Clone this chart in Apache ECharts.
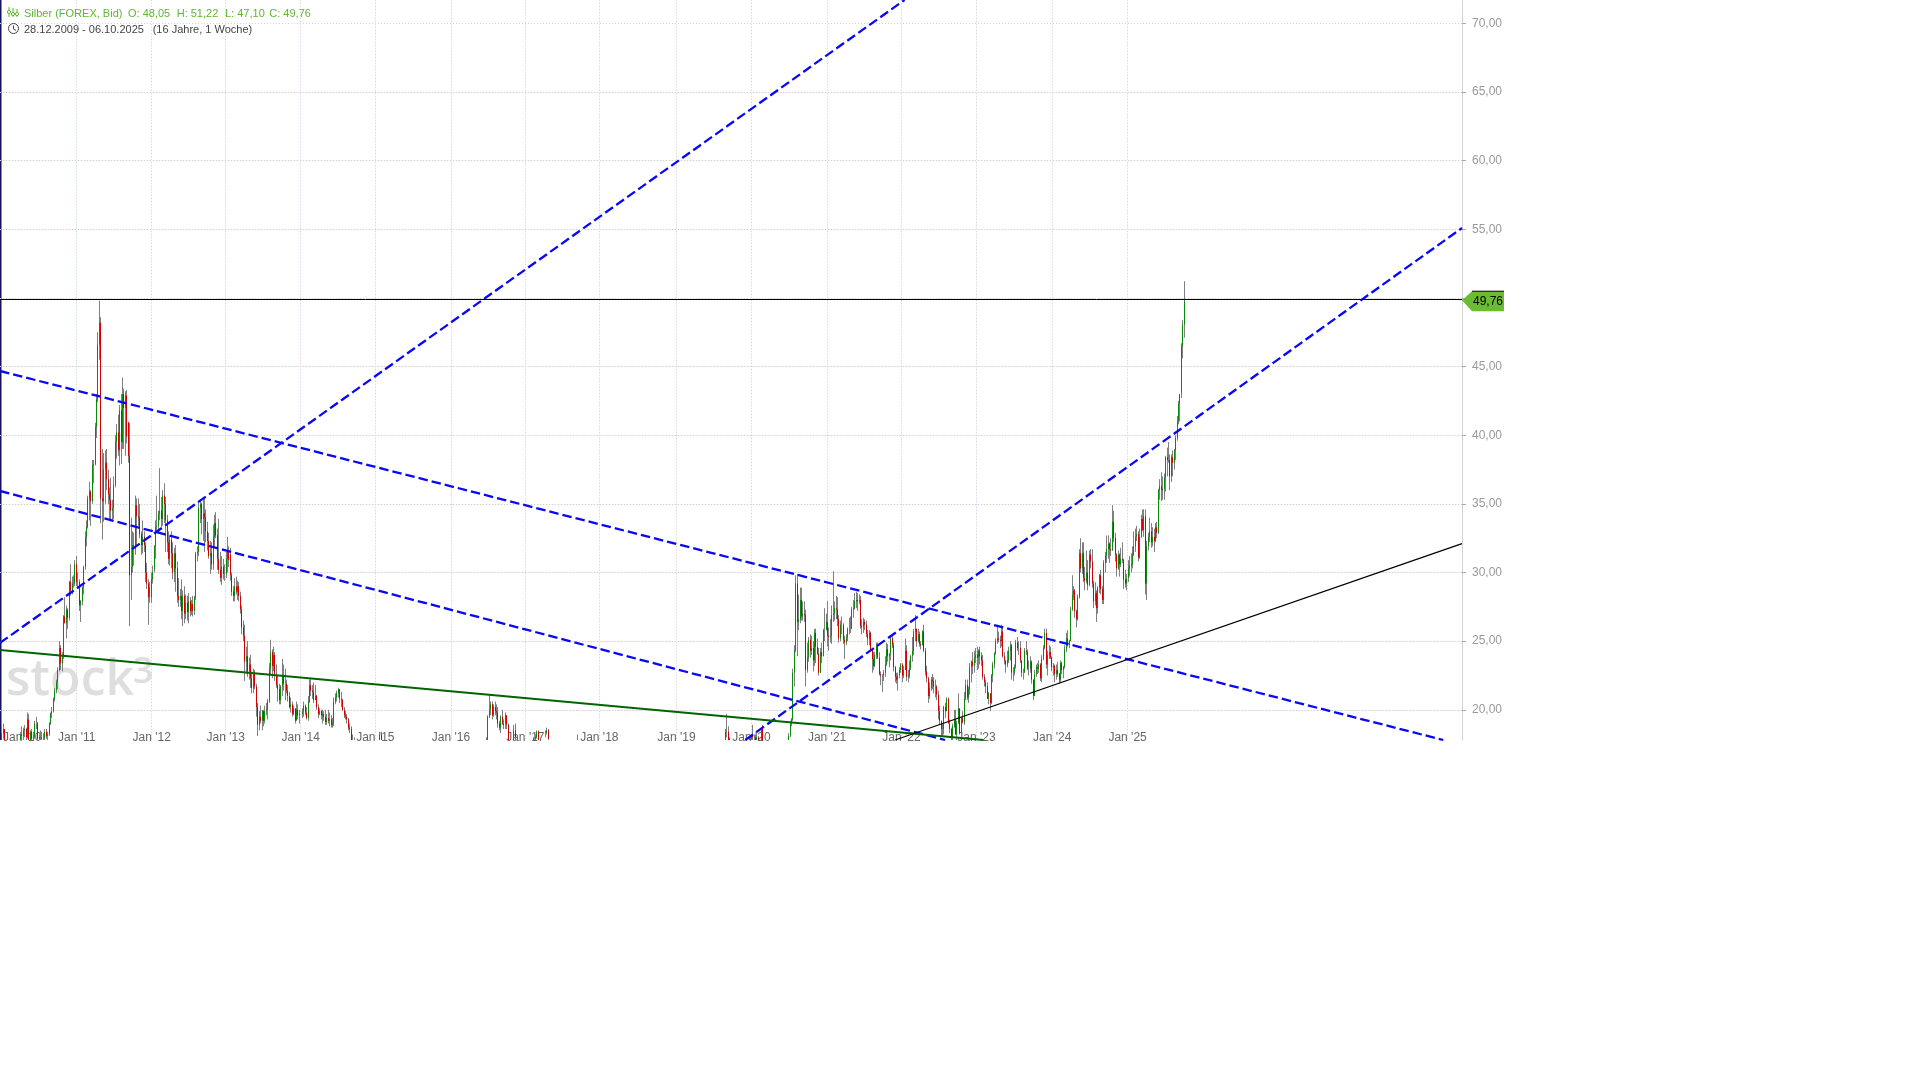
<!DOCTYPE html>
<html><head><meta charset="utf-8"><title>Silber</title>
<style>html,body{margin:0;padding:0;background:#fff}#c{width:1920px;height:1080px}</style>
<script src="https://cdn.jsdelivr.net/npm/echarts@6/dist/echarts.min.js"></script>
</head><body><div id="c"></div>
<script>
// weekly rows: [open, high, low, close]
const w2010 = [[16.8,17.3,16.6,17.0],[17.0,18.9,16.9,18.3],[18.3,19.0,17.9,18.6],[18.6,18.4,16.9,17.1],[17.1,17.3,15.9,16.2],[16.2,16.6,14.8,15.0],[15.0,15.9,14.9,15.8],[15.8,16.6,15.7,16.5],[16.5,16.7,15.9,16.4],[16.4,17.2,16.3,17.1],[17.1,17.5,16.8,17.1],[17.1,17.3,16.5,16.9],[16.9,17.2,16.6,17.0],[17.0,17.8,16.9,17.7],[17.7,18.4,17.6,18.2],[18.2,18.8,17.6,18.1],[18.1,18.7,17.7,18.5],[18.5,18.9,18.0,18.6],[18.6,18.7,17.7,18.0],[18.0,19.8,17.9,19.3],[19.3,19.7,17.3,17.6],[17.6,18.5,17.3,18.4],[18.4,18.6,17.5,17.9],[17.9,18.4,17.4,18.0],[18.0,19.2,17.9,19.0],[19.0,19.5,18.6,19.0],[19.0,19.1,17.8,17.9],[17.9,18.2,17.5,18.0],[18.0,18.5,17.7,18.0],[18.0,18.4,17.5,17.9],[17.9,18.3,17.6,17.9],[17.9,18.6,17.8,18.4],[18.4,18.6,17.9,18.1],[18.1,18.4,17.8,18.2],[18.2,19.1,18.1,19.0],[19.0,19.8,18.9,19.7],[19.7,20.2,19.4,19.9],[19.9,20.9,19.8,20.8],[20.8,21.6,20.6,21.4],[21.4,22.2,21.2,22.0],[22.0,23.1,21.5,22.9],[22.9,25.0,22.8,24.5],[24.5,24.7,22.9,23.4],[23.4,24.2,22.8,23.9],[23.9,26.9,23.7,26.8],[26.8,28.2,26.3,26.3],[26.3,27.6,25.2,27.3],[27.3,27.4,25.9,26.7],[26.7,29.4,26.5,29.3],[29.3,30.6,28.3,28.7],[28.7,29.7,28.4,29.2],[29.2,29.8,28.9,29.2],[29.2,30.9,29.0,30.6]];
const w2011 = [[30.6,31.2,29.0,29.3],[29.3,30.0,28.9,29.3],[29.3,29.5,27.2,27.6],[27.6,28.0,26.4,27.9],[27.9,29.0,27.6,28.9],[28.9,30.5,28.4,30.4],[30.4,33.0,30.2,32.6],[32.6,33.8,31.9,33.3],[33.3,35.6,33.2,35.4],[35.4,36.6,33.8,35.9],[35.9,36.0,33.4,35.2],[35.2,38.2,35.0,37.8],[37.8,38.2,36.5,37.9],[37.9,40.9,37.8,40.6],[40.6,43.0,39.8,42.6],[42.6,47.5,42.4,46.6],[46.6,49.8,45.5,48.2],[48.2,48.6,33.6,35.4],[35.4,39.0,32.4,35.2],[35.2,38.7,33.7,37.5],[37.5,38.9,35.0,38.0],[38.0,39.0,36.0,36.8],[36.8,37.5,35.0,35.7],[35.7,36.2,33.8,35.3],[35.3,36.9,33.7,34.5],[34.5,35.3,33.7,34.7],[34.7,37.0,33.9,36.4],[36.4,40.0,36.2,39.5],[39.5,40.8,38.3,40.2],[40.2,41.5,38.5,38.9],[38.9,42.2,37.8,41.8],[41.8,43.0,37.9,39.5],[39.5,44.2,39.0,43.0],[43.0,43.4,39.0,42.0],[42.0,43.2,38.5,42.9],[42.9,43.3,39.4,39.9],[40.9,41.0,38.0,38.5],[38.5,40.9,26.1,29.8],[29.8,34.0,28.0,30.4],[30.4,33.0,30.0,32.0],[32.0,32.9,30.5,31.9],[31.7,35.6,31.3,34.9],[34.9,35.4,32.0,34.1],[34.1,35.4,33.4,34.0],[34.0,35.0,32.5,32.8],[32.8,33.0,31.3,32.0],[32.0,33.8,31.4,32.6],[32.6,33.0,31.5,32.0],[32.0,32.2,29.3,30.0],[30.0,30.7,28.8,29.2],[29.2,29.5,26.2,28.2],[28.2,29.3,27.8,28.9]];
const w2012 = [[28.2,30.0,27.8,29.5],[29.5,30.5,29.2,30.0],[30.2,32.0,30.0,31.9],[31.9,33.8,31.0,33.3],[33.3,35.6,33.0,33.4],[33.4,34.5,32.8,34.3],[34.3,37.6,33.8,34.5],[34.5,35.5,33.3,33.9],[33.9,36.0,33.4,35.6],[35.6,36.5,33.6,35.0],[35.0,35.5,31.5,33.8],[33.8,34.2,31.5,32.2],[32.2,33.0,30.6,31.0],[31.0,32.7,30.5,32.4],[32.4,33.0,30.3,31.4],[31.4,32.2,29.5,30.0],[30.0,31.8,29.3,31.4],[31.4,32.0,28.6,30.3],[30.3,30.8,27.8,28.3],[28.3,29.6,27.5,28.0],[28.0,28.8,27.5,28.3],[28.3,29.5,26.6,27.2],[27.2,28.7,26.1,28.3],[28.3,29.0,26.3,27.0],[27.0,28.4,26.6,27.8],[27.8,28.3,26.5,27.1],[27.1,28.5,26.3,27.9],[27.9,28.2,26.8,27.2],[27.2,28.0,26.9,27.7],[27.7,28.3,26.8,27.2],[27.2,28.3,26.9,28.2],[28.2,31.5,28.0,31.4],[31.4,31.9,30.8,31.5],[31.5,35.2,31.2,34.7],[34.7,35.3,33.6,35.0],[35.0,35.1,32.8,33.9],[33.9,35.4,32.3,34.3],[34.3,35.4,31.5,34.0],[34.0,34.6,32.2,33.0],[33.0,33.7,31.6,32.3],[32.3,32.9,31.0,31.2],[31.2,32.3,29.9,31.4],[31.4,32.2,30.2,30.6],[30.6,33.5,30.2,32.6],[32.6,34.2,31.8,33.6],[33.6,34.4,32.5,32.7],[32.7,33.2,30.2,31.0],[31.0,33.9,29.9,30.2],[30.2,31.5,29.3,29.6],[29.6,31.2,29.1,30.4],[30.4,31.0,29.5,29.9],[29.9,30.6,29.4,29.9]];
const w2013 = [[29.9,31.5,29.6,31.0],[31.0,32.6,30.0,31.5],[31.5,31.9,30.4,30.9],[31.3,31.8,29.4,29.8],[29.8,30.0,28.3,28.6],[28.6,29.0,27.9,28.3],[28.3,29.6,27.9,29.0],[29.0,29.7,28.4,28.6],[28.6,29.4,28.0,29.0],[29.0,29.3,27.9,28.3],[28.3,28.6,27.0,27.3],[27.3,27.6,25.5,26.0],[26.0,26.5,25.0,25.4],[25.4,26.2,22.1,23.5],[23.5,24.6,22.6,23.9],[23.9,25.0,22.4,22.8],[22.8,23.8,22.2,23.3],[23.3,24.0,21.6,22.3],[22.3,22.8,21.2,21.6],[21.6,23.0,21.2,22.6],[22.6,22.9,21.5,21.7],[21.7,21.9,19.5,20.2],[20.2,20.5,18.1,18.9],[18.9,19.9,18.5,19.5],[19.5,20.3,19.0,19.2],[19.2,20.0,18.5,19.9],[19.9,20.0,18.8,19.2],[19.2,20.3,19.0,19.9],[19.9,20.5,19.6,20.0],[20.0,20.8,19.3,20.6],[20.6,23.4,20.5,23.0],[23.0,25.1,22.5,24.2],[24.2,24.4,22.3,23.2],[23.2,24.6,22.8,24.0],[24.0,24.2,22.1,22.6],[22.6,23.3,21.6,21.8],[21.8,22.5,20.6,21.5],[21.5,21.9,20.4,20.7],[20.7,21.8,20.4,21.7],[21.7,23.7,21.0,22.4],[22.4,23.3,21.4,21.9],[21.9,23.0,20.7,21.9],[21.9,22.2,21.2,21.4],[21.4,21.8,20.6,21.0],[21.0,21.3,20.1,20.2],[20.2,20.9,19.8,20.4],[20.4,20.6,19.5,19.7],[19.7,20.3,19.6,20.1],[20.1,20.1,19.0,19.2],[19.2,20.6,19.4,20.0],[20.0,20.4,19.3,19.6],[19.6,20.0,19.0,19.7]];
const w2014 = [[19.7,20.1,19.4,19.9],[19.9,20.6,19.5,20.3],[20.3,20.4,19.6,19.8],[19.8,20.2,19.3,19.4],[19.4,21.0,19.2,20.6],[20.6,22.2,20.5,21.8],[21.8,22.3,21.0,21.4],[21.4,21.8,20.8,21.3],[21.3,22.0,20.5,20.7],[20.7,21.8,20.7,21.0],[21.0,21.1,20.0,20.2],[20.2,20.4,19.4,19.7],[19.7,20.1,19.6,19.9],[19.9,20.0,19.3,19.6],[19.6,20.0,19.0,19.7],[19.7,19.9,19.2,19.5],[19.5,20.0,18.9,19.1],[19.1,19.7,18.9,19.4],[19.4,20.0,19.0,19.2],[19.2,19.8,18.8,19.3],[19.3,19.6,18.7,18.9],[18.9,19.4,18.7,19.0],[19.0,20.9,18.8,20.6],[20.6,21.2,20.4,20.9],[20.9,21.4,20.6,21.2],[21.2,21.6,20.9,21.5],[21.5,21.5,20.5,20.8],[20.8,21.3,20.2,20.7],[20.7,20.8,19.9,20.0],[20.0,20.2,19.4,19.6],[19.6,19.9,19.3,19.5],[19.5,19.7,19.0,19.3],[19.3,19.4,18.5,18.7],[18.7,19.0,18.3,18.6],[18.6,18.8,17.6,17.8],[17.8,18.2,17.4,17.5],[17.5,18.0,17.2,17.4]];
const w2015 = [[17.5,18.4,17.4,18.2],[18.2,18.4,17.6,17.7]];
const w2016 = [[17.5,17.8,17.2,17.7],[17.7,18.0,17.2,17.8],[17.8,19.6,17.7,19.5],[19.5,21.1,19.4,20.0],[20.0,20.6,19.6,20.4],[20.4,20.6,19.3,19.6],[19.6,20.4,19.5,20.2],[20.2,20.6,19.6,19.9],[19.9,20.4,19.3,19.8],[19.8,20.2,18.7,19.0],[19.0,19.2,18.5,18.7],[18.7,19.6,18.3,19.5],[19.5,20.0,18.9,19.0],[19.0,19.3,18.6,18.9],[19.0,19.8,18.6,19.6],[19.6,19.6,18.6,18.9],[18.9,19.0,17.4,17.5]];
const w2016b = [[17.8,18.9,17.7,18.5],[18.5,19.0,17.8,18.0]];
const w2017a = [[17.5,18.0,17.4,17.9],[17.9,18.2,17.8,18.0],[18.0,18.5,17.9,18.4],[18.4,18.5,17.6,17.7]];
const w2017b = [[18.2,18.5,18.0,18.2],[18.3,18.7,18.2,18.5],[18.5,18.6,17.8,17.9]];
const w2017c = [[17.7,18.2,17.6,17.7]];
const w2019a = [[17.3,18.6,17.1,18.4],[18.4,19.7,18.0,18.4],[18.4,18.8,17.4,17.6],[17.6,18.0,17.3,17.9]];
const w2019b = [[17.3,18.0,17.2,17.9],[17.9,18.2,17.6,18.1],[18.1,18.9,17.6,18.0],[18.0,18.2,17.7,18.0],[18.0,18.2,17.6,17.8],[17.8,18.4,17.6,18.0],[18.0,18.1,17.2,17.4],[17.4,17.7,17.1,17.6],[17.6,18.7,17.5,18.6],[18.8,18.9,16.4,16.7]];
const w2020 = [[17.8,18.3,17.7,18.1],[18.1,19.2,18.0,19.1],[19.1,19.4,18.8,19.3],[19.3,23.0,19.2,22.7],[22.7,24.7,21.7,24.3],[24.3,29.8,24.2,29.2],[29.2,29.9,23.9,26.4],[26.4,28.4,25.8,26.6],[26.6,28.9,26.3,28.0],[28.0,28.9,26.5,26.8],[26.8,27.9,26.5,27.0],[27.0,27.9,26.4,26.9],[26.9,27.3,21.7,22.9],[22.9,24.9,22.7,23.8],[23.8,25.3,23.5,25.1],[25.1,25.5,23.8,24.3],[24.3,25.4,24.0,24.5],[24.5,25.0,22.8,23.6],[23.6,25.9,23.2,25.6],[25.6,25.9,23.4,24.6],[24.6,25.2,24.0,24.1],[24.1,24.5,22.5,22.7],[22.7,24.5,22.7,24.2],[24.2,24.9,23.4,23.9],[23.9,25.9,23.9,25.8],[25.8,27.4,25.0,25.8],[25.8,27.0,25.8,26.4]];
const w2021 = [[26.4,27.9,24.6,25.4],[25.4,26.0,24.3,25.3],[25.3,26.6,24.9,25.4],[25.4,27.6,24.8,26.9],[26.9,30.1,26.4,27.0],[27.0,27.9,26.5,27.4],[27.4,28.3,26.6,27.3],[27.3,28.2,26.1,26.6],[26.6,26.9,24.9,25.2],[25.2,26.5,25.0,26.2],[26.2,26.8,25.5,26.2],[26.2,26.3,24.8,25.1],[25.1,25.4,23.7,24.9],[24.9,25.5,24.7,25.3],[25.3,26.0,25.0,25.9],[25.9,26.7,25.5,25.9],[25.9,26.8,25.6,25.9],[25.9,27.5,25.9,27.3],[27.3,28.0,26.7,27.4],[27.4,28.5,27.3,27.9],[27.9,28.6,27.4,28.0],[28.0,28.5,27.2,27.9],[27.9,28.4,27.7,28.0],[28.0,28.3,25.9,26.1],[26.1,26.6,25.5,26.0],[26.0,26.7,25.6,26.4],[26.4,26.6,25.8,26.2],[26.2,26.5,25.3,25.5],[25.5,25.8,24.7,25.2],[25.2,25.8,24.7,25.6],[25.6,25.7,24.3,24.4],[24.4,24.4,22.7,23.7],[23.7,24.2,22.9,23.2],[23.2,24.2,23.1,24.0],[24.0,24.9,23.7,24.7],[24.7,24.9,23.7,23.8],[23.8,24.2,22.5,22.6],[22.6,22.8,21.8,22.5],[22.5,22.6,21.3,22.5],[22.5,22.9,22.1,22.7],[22.7,23.9,22.4,23.3],[23.3,24.9,23.2,24.4],[24.4,24.8,23.5,23.9],[23.9,24.1,23.1,24.1],[24.1,25.4,23.6,25.2],[25.2,25.4,24.5,24.7],[24.7,24.9,22.8,23.1],[23.1,23.2,22.0,22.4],[22.4,22.7,21.9,22.2],[22.2,22.7,21.4,22.5],[22.5,23.1,22.3,22.9],[22.9,23.4,22.7,23.3]];
const w2022 = [[23.3,23.4,22.0,22.5],[22.5,23.2,22.3,22.9],[22.9,25.2,22.9,24.3],[24.3,24.7,22.1,22.4],[22.4,22.9,22.0,22.5],[22.5,23.6,22.3,23.0],[23.0,24.0,22.9,23.9],[23.9,25.3,23.5,24.3],[24.3,25.9,24.0,25.7],[25.7,26.9,25.0,25.9],[25.9,25.9,24.6,25.0],[25.0,25.9,24.9,25.5],[25.5,25.7,24.6,24.8],[24.8,25.0,24.4,24.7],[24.7,25.8,24.7,25.7],[25.7,26.2,24.2,24.3],[24.3,24.5,22.5,22.8],[22.8,23.2,22.0,22.3],[22.3,22.4,20.5,21.0],[21.0,22.0,20.8,21.6],[21.6,22.4,21.4,22.2],[22.2,22.6,21.5,22.1],[22.1,22.4,21.2,21.7],[21.7,22.2,20.9,21.7],[21.7,21.8,20.7,21.1],[21.1,21.4,19.3,19.9],[19.9,20.3,18.9,19.2],[19.2,19.2,18.1,18.6],[18.6,19.0,18.1,18.6],[18.6,20.3,18.2,20.2],[20.2,20.5,19.4,19.9],[19.9,20.9,19.9,20.8],[20.8,20.9,19.0,19.0],[19.0,19.3,18.3,18.6],[18.6,18.7,17.6,18.0],[18.0,19.0,17.6,18.8],[18.8,20.0,18.7,19.3],[19.3,20.0,18.2,18.2],[18.2,19.2,17.7,19.0],[19.0,21.2,19.0,20.1],[20.1,20.1,18.2,18.3],[18.3,19.5,18.1,19.4],[19.4,19.9,19.0,19.1],[19.1,21.3,18.9,20.8],[20.8,22.2,20.7,21.8],[21.8,22.2,20.7,20.9],[20.9,21.7,20.5,21.5],[21.5,23.4,21.1,23.1],[23.1,23.6,22.0,23.5],[23.5,24.2,22.6,23.2],[23.2,24.3,22.7,23.8],[23.8,24.5,23.4,24.0]];
const w2023 = [[24.0,24.6,22.9,23.8],[23.8,24.4,23.0,24.3],[24.3,24.6,23.3,23.9],[23.9,24.2,23.2,23.6],[23.6,24.0,22.2,22.4],[22.4,22.6,21.7,22.0],[22.0,22.2,21.2,21.7],[21.7,22.0,20.8,20.8],[20.8,21.3,20.4,21.2],[21.2,21.2,19.9,20.5],[20.5,22.6,20.4,22.5],[22.5,23.5,22.0,23.3],[23.3,24.2,23.0,24.1],[24.1,25.2,24.0,25.0],[25.0,26.1,24.8,25.2],[25.2,25.7,24.9,25.1],[25.1,25.4,24.5,25.0],[25.0,26.2,24.6,25.7],[25.7,26.1,23.8,23.9],[23.9,24.2,23.3,23.6],[23.6,23.6,22.7,23.3],[23.3,24.3,23.1,23.6],[23.6,24.6,23.4,24.3],[24.3,25.0,23.6,24.7],[24.7,24.8,22.2,22.7],[22.7,23.1,22.1,22.7],[22.7,23.3,22.5,23.1],[23.1,25.1,23.0,24.9],[24.9,25.3,24.3,24.5],[24.5,25.0,24.0,24.5],[24.5,25.0,23.4,23.6],[23.6,23.6,22.4,22.7],[22.7,23.0,22.2,22.7],[22.7,24.5,22.7,24.3],[24.3,25.0,24.0,24.2],[24.2,24.4,22.9,23.0],[23.0,23.6,22.5,23.0],[23.0,23.9,22.7,23.5],[23.5,23.6,21.9,22.2],[22.2,22.2,20.7,21.0],[21.0,22.9,21.0,22.6],[22.6,23.3,22.4,23.1],[23.1,23.4,22.6,23.0],[23.0,23.6,22.7,23.3],[23.3,23.4,22.1,22.3],[22.3,24.0,22.0,23.7],[23.7,24.7,23.6,24.5],[24.5,25.9,24.4,25.6],[25.6,25.9,23.0,23.3],[23.3,24.3,22.5,24.0],[24.0,24.7,23.7,24.2],[24.2,24.6,23.7,23.8]];
const w2024 = [[23.8,23.9,22.8,23.1],[23.1,23.4,22.5,23.2],[23.2,23.3,22.0,22.6],[22.6,23.3,22.2,22.9],[22.9,23.5,22.4,22.6],[22.6,22.7,21.9,22.2],[22.2,23.6,22.0,23.4],[23.4,23.5,22.6,22.9],[22.9,23.2,22.3,23.1],[23.1,24.7,23.0,24.4],[24.4,25.6,24.2,25.2],[25.2,25.8,24.6,24.7],[24.7,25.1,24.5,25.0],[25.0,27.5,25.0,27.3],[27.3,29.8,27.2,28.4],[28.4,29.0,28.0,28.7],[28.7,28.8,26.7,27.2],[27.2,27.3,26.0,26.6],[26.6,28.4,26.5,28.2],[28.2,31.7,28.1,31.4],[31.4,32.5,30.0,30.3],[30.3,32.2,29.9,31.4],[31.4,32.2,29.3,29.6],[29.6,30.4,28.7,29.4],[29.4,31.6,29.2,30.0],[30.0,30.9,28.7,29.1],[29.1,31.6,29.0,31.3],[31.3,31.7,30.3,30.8],[30.8,31.7,28.9,29.2],[29.2,29.4,27.4,27.9],[27.9,29.3,27.6,28.5],[28.5,28.7,26.4,27.4],[27.4,29.0,27.0,28.9],[28.9,29.9,28.5,29.8],[29.8,30.2,28.4,28.8],[28.8,29.0,27.7,28.0],[28.0,30.9,27.7,30.7],[30.7,31.5,30.0,31.2],[31.2,32.7,30.7,31.7],[31.7,32.7,31.0,32.1],[32.1,32.2,30.7,31.7],[31.7,32.5,31.2,31.6],[31.6,34.9,31.6,33.7],[33.7,34.5,32.2,32.5],[32.5,32.9,30.8,31.3],[31.3,31.4,29.7,30.3],[30.3,31.6,30.2,31.3],[31.3,31.4,29.7,30.6],[30.6,31.8,30.4,31.0],[31.0,32.2,30.7,30.9],[30.9,31.0,28.8,29.5],[29.5,30.2,28.9,29.2],[29.2,29.9,28.7,29.6]];
const w2025 = [[29.6,30.9,29.3,30.3],[30.3,31.2,29.7,30.5],[30.5,31.4,30.0,30.6],[30.6,31.9,30.3,31.3],[31.3,33.0,31.2,31.9],[31.9,33.2,31.5,32.6],[32.6,33.4,32.3,32.8],[32.8,33.0,30.8,31.1],[31.1,33.2,31.0,32.6],[32.6,34.2,32.5,33.9],[33.9,34.6,33.0,33.1],[33.1,34.6,32.6,34.1],[34.1,34.6,28.4,29.2],[29.2,32.3,28.0,31.9],[31.9,32.9,31.6,32.6],[32.6,34.0,32.2,33.0],[33.0,33.6,31.8,32.2],[32.2,33.3,31.9,32.6],[32.6,33.2,31.5,32.3],[32.3,33.6,32.2,33.3],[33.3,33.7,32.5,32.9],[32.9,36.1,32.8,36.0],[36.0,36.8,35.3,36.3],[36.3,37.3,35.2,36.0],[36.0,37.0,35.3,36.1],[36.1,37.2,35.3,36.9],[36.9,38.5,35.9,38.4],[38.4,39.1,37.0,38.2],[38.2,39.5,38.0,38.2],[38.2,38.6,36.0,37.0],[37.0,38.6,36.6,38.4],[38.4,38.9,37.0,38.0],[38.0,39.0,37.5,38.9],[38.9,40.0,38.2,39.8],[39.8,41.4,39.6,41.0],[41.0,42.5,40.8,42.3],[42.3,43.0,41.0,43.0],[43.1,46.7,42.7,46.5],[46.5,48.4,45.6,48.05],[48.05,51.22,47.10,49.76]];

const segments = [['2009-12-28',w2010],['2011-01-03',w2011],['2012-01-02',w2012],['2012-12-31',w2013],['2014-01-06',w2014],['2015-01-19',w2015],['2016-06-13',w2016],['2016-10-31',w2016b],['2017-02-06',w2017a],['2017-04-03',w2017b],['2017-09-04',w2017c],['2019-08-26',w2019a],['2019-12-23',w2019b],['2020-06-29',w2020],['2021-01-04',w2021],['2022-01-03',w2022],['2023-01-02',w2023],['2024-01-01',w2024],['2025-01-06',w2025]];

const xStart = '2009-12-26', xEnd = '2029-06-17';
const yBottom = 17.8, yTop = 71.7;
const priceTicks = [20,25,30,35,40,45,50,55,60,65,70];
const janTicks = ['2011-01-03','2012-01-03','2012-12-28','2013-12-28','2014-12-26','2015-12-29','2016-12-25','2017-12-20','2018-12-30','2019-12-30','2021-01-01','2021-12-29','2022-12-29','2024-01-01','2025-01-02'];
const janLabels = ["Jan '11","Jan '12","Jan '13","Jan '14","Jan '15","Jan '16","Jan '17","Jan '18","Jan '19","Jan '20","Jan '21","Jan '22","Jan '23","Jan '24","Jan '25"];

// trend lines: [date, price]
const channelUpperRise = [['2009-12-26',24.87],['2022-01-13',71.7]];
const channelLowerRise = [['2019-11-30',17.8],['2029-06-17',55.09]];
const channelUpperFall = [['2009-12-26',44.68],['2029-03-18',17.8]];
const channelLowerFall = [['2009-12-26',35.94],['2022-07-29',17.8]];
const greenSupport = [['2009-12-26',24.36],['2023-01-31',17.8]];
const blackSupport = [['2021-11-28',17.8],['2029-06-17',32.1]];
const lastLine = [['2009-12-26',49.885],['2029-06-17',49.885]];
const lastClose = 49.76;

const DAY = 864e5;
const wick = [], body = [];
segments.forEach(([start, rows]) => {
  const t0 = Date.parse(start + 'T00:00:00Z');
  rows.forEach((r, i) => {
    const [o, h, l, c] = r, t = t0 + i * 7 * DAY;
    // the plot cuts off at its lower edge, so parts below it are not drawn
    if (h > yBottom) { const lo = Math.max(l, yBottom); wick.push([t, lo, h, lo, h]); }
    const co = Math.max(o, yBottom), cc = Math.max(c, yBottom);
    if (Math.max(co, cc) > yBottom) body.push([t, co, cc, Math.min(co, cc), Math.max(co, cc)]);
  });
});
const tickTimes = janTicks.map(d => Date.parse(d + 'T00:00:00Z'));
const xMin = Date.parse(xStart + 'T00:00:00Z'), xMax = Date.parse(xEnd + 'T00:00:00Z');

const lineSeries = (data, color, width, type) => ({
  type: 'line', data: data.map(d => [Date.parse(d[0] + 'T00:00:00Z'), d[1]]), showSymbol: false, silent: true,
  animation: false, clip: true, z: 5, lineStyle: {color, width, type}
});

const pastelH = ['#f0eaf2','#f5eaf4','#eeeaf6','#f3f6ea','#e8f7e8','#f5ecf6','#f2f2f2','#f4f0f6','#ecf8ec','#f8eaf8','#ffffff'];
const pastelV = ['#f0f8f5','#f5f5fb','#f2f2fa','#faeffa','#f0f8f0','#f1f1fa','#f9f2f9','#f0f5fa','#f8f2f6','#f2f9f2','#f0f9f0','#f5f2f9','#f2f5f9','#f5f2f8','#faf0fa'];

const chart = echarts.init(document.getElementById('c'), null, {renderer: 'canvas', width: 1920, height: 1080});
const FONT = '"Liberation Sans", Arial, sans-serif';
const txt = (x, y, text, fill) => ({type: 'text', z: 2, x, y, style: {text, fill, font: '11px ' + FONT, textVerticalAlign: 'middle', verticalAlign: 'middle'}});

chart.setOption({
  animation: false,
  backgroundColor: '#ffffff',
  grid: {left: 0, top: 0, width: 1462, height: 740, containLabel: false},
  xAxis: [{
    type: 'value', min: xMin, max: xMax, position: 'bottom',
    axisLine: {show: false},
    axisTick: {show: false, customValues: tickTimes},
    axisLabel: {show: true, customValues: tickTimes, inside: true, margin: -4, verticalAlign: 'bottom', lineHeight: 12,
      color: '#666666', fontSize: 12, fontFamily: FONT, hideOverlap: false,
      formatter: v => { const i = tickTimes.indexOf(+v); return i >= 0 ? janLabels[i] : ''; }},
    splitLine: {show: true, lineStyle: {color: '#d9d9d9', width: 1, type: [1, 2]}},
    z: 1
  }, {
    type: 'value', min: xMin, max: xMax, show: true, position: 'bottom',
    axisLine: {show: false}, axisLabel: {show: false},
    axisTick: {show: false, customValues: tickTimes},
    splitLine: {show: true, lineStyle: {color: pastelV, width: 1}},
    z: 0
  }],
  yAxis: [{
    type: 'value', min: yBottom, max: yTop, position: 'right',
    axisLine: {show: true, lineStyle: {color: '#c8c8c8', width: 1, type: [1, 1]}},
    axisTick: {show: true, length: 4, customValues: priceTicks, lineStyle: {color: '#aaaaaa'}},
    axisLabel: {show: true, customValues: priceTicks, margin: 10, color: '#999999', fontSize: 12, fontFamily: FONT,
      padding: [0, 0, 3, 0],
      formatter: v => v.toFixed(2).replace('.', ',')},
    splitLine: {show: true, lineStyle: {color: '#d2d2d2', width: 1, type: [1, 2]}},
    z: 1
  }, {
    type: 'value', min: yBottom, max: yTop, position: 'right',
    axisLine: {show: false}, axisLabel: {show: false},
    axisTick: {show: false, customValues: priceTicks},
    splitLine: {show: true, lineStyle: {color: pastelH, width: 1}},
    z: 0
  }],
  series: [
    {type: 'candlestick', data: wick, barWidth: 1, silent: true, z: 3, clip: true,
      encode: {x: 0, y: [1, 2, 3, 4]},
      itemStyle: {color: '#808080', color0: '#808080', borderColor: '#808080', borderColor0: '#808080', borderWidth: 1}},
    {type: 'candlestick', data: body, barWidth: 1, silent: true, z: 4, clip: true,
      encode: {x: 0, y: [1, 2, 3, 4]},
      itemStyle: {color: '#0a8a0a', color0: '#d40000', borderColor: '#0a8a0a', borderColor0: '#d40000', borderWidth: 1}},
    lineSeries(channelUpperRise, '#0808f5', 2.3, [9.5, 4]),
    lineSeries(channelLowerRise, '#0808f5', 2.3, [9.5, 4]),
    lineSeries(channelUpperFall, '#0808f5', 2.3, [9.5, 4]),
    lineSeries(channelLowerFall, '#0808f5', 2.3, [9.5, 4]),
    lineSeries(greenSupport, '#006400', 2, 'solid'),
    lineSeries(blackSupport, '#000000', 1.2, 'solid'),
    lineSeries(lastLine, '#000000', 1, 'solid'),
    {type: 'custom', silent: true, clip: false, z: 6, data: [[xMax, lastClose]],
      encode: {x: 0, y: 1},
      renderItem: (params, api) => {
        const p = api.coord([api.value(0), api.value(1)]);
        const x = p[0], y = p[1];
        return {type: 'group', children: [
          {type: 'polygon', shape: {points: [[x, y - 1], [x + 10, y - 10], [x + 42, y - 10], [x + 42, y + 10], [x + 10, y + 10]]},
            style: {fill: '#6abd32'}},
          {type: 'line', shape: {x1: x + 10, y1: y - 10, x2: x + 42, y2: y - 10}, style: {stroke: '#000', lineWidth: 1}},
          {type: 'text', x: x + 11, y: y, style: {text: api.value(1).toFixed(2).replace('.', ','), fill: '#000', font: '12px ' + FONT, verticalAlign: 'middle', textVerticalAlign: 'middle'}}
        ]};
      }}
  ],
  graphic: {elements: [
    {type: 'rect', z: 1, shape: {x: 0, y: 0, width: 315, height: 23}, style: {fill: '#fff'}},
    {type: 'rect', z: 1, shape: {x: 0, y: 23, width: 260, height: 15}, style: {fill: '#fff'}},
    {type: 'rect', z: 1, shape: {x: 0, y: 0, width: 1.5, height: 740}, style: {fill: '#14145a'}},
    // price icon
    {type: 'line', z: 2, shape: {x1: 9, y1: 7, x2: 9, y2: 17}, style: {stroke: '#5cb82e', lineWidth: 1}},
    {type: 'circle', z: 2, shape: {cx: 9, cy: 12, r: 1.6}, style: {fill: '#fff', stroke: '#5cb82e', lineWidth: 1}},
    {type: 'line', z: 2, shape: {x1: 13, y1: 8, x2: 13, y2: 17}, style: {stroke: '#5cb82e', lineWidth: 1}},
    {type: 'circle', z: 2, shape: {cx: 13, cy: 14, r: 1.6}, style: {fill: '#fff', stroke: '#5cb82e', lineWidth: 1}},
    {type: 'line', z: 2, shape: {x1: 17, y1: 9, x2: 17, y2: 17}, style: {stroke: '#5cb82e', lineWidth: 1}},
    {type: 'circle', z: 2, shape: {cx: 17, cy: 14, r: 1.6}, style: {fill: '#fff', stroke: '#5cb82e', lineWidth: 1}},
    // clock icon
    {type: 'circle', z: 2, shape: {cx: 13.5, cy: 28.5, r: 5}, style: {fill: '#fff', stroke: '#444', lineWidth: 1}},
    {type: 'polyline', z: 2, shape: {points: [[13.5, 25.5], [13.5, 29], [16, 30.5]]}, style: {fill: 'none', stroke: '#444', lineWidth: 1}},
    txt(24, 13.5, 'Silber (FOREX, Bid)', '#5cb82e'),
    txt(128, 13.5, 'O: 48,05', '#5cb82e'),
    txt(176.7, 13.5, 'H: 51,22', '#5cb82e'),
    txt(225, 13.5, 'L: 47,10', '#5cb82e'),
    txt(269.3, 13.5, 'C: 49,76', '#5cb82e'),
    txt(24, 30, '28.12.2009 - 06.10.2025', '#444444'),
    txt(152.7, 30, '(16 Jahre, 1 Woche)', '#444444'),
    {type: 'text', z: 1, x: 3, y: 744, style: {text: "Jan '10", fill: '#666666', font: '12px ' + FONT, verticalAlign: 'bottom', textVerticalAlign: 'bottom'}},
    // watermark
    {type: 'text', z: 1, x: 6, y: 706, style: {text: 'stock', fill: '#dedede', font: '600 50px "Open Sans", sans-serif', verticalAlign: 'bottom', textVerticalAlign: 'bottom'}},
    {type: 'text', z: 1, x: 133, y: 691, style: {text: '3', fill: '#dedede', font: '600 36px "Open Sans", sans-serif', verticalAlign: 'bottom', textVerticalAlign: 'bottom'}}
  ]}
});
</script></body></html>
